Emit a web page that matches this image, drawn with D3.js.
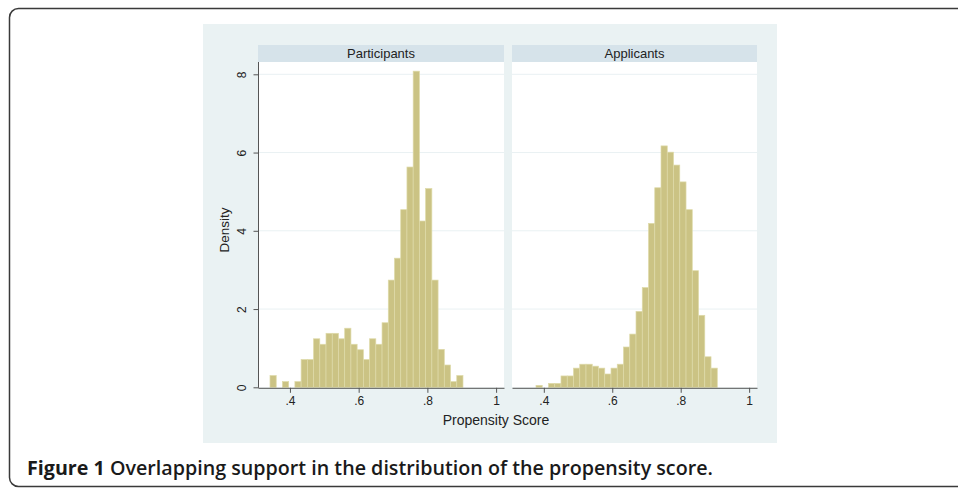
<!DOCTYPE html>
<html>
	<head>
		<meta http-equiv="Content-Type" content="text/html;charset=utf-8"/>
		<title>Propensity score</title>
		<script src="https://d3js.org/d3.v7.min.js"></script>
		<style type="text/css">
			body { margin: 0; background: #fff; }
			svg { display: block; }
			.bar { fill: #cbc384; stroke: #dedaa9; stroke-width: 0.7; }
			.grid { stroke: #e9f1f3; stroke-width: 1; }
			.axis path, .axis line { stroke: #555; }
			.axis text { font-family: "Liberation Sans", Arial, sans-serif; font-size: 12px; fill: #222; }
			.lbl { font-family: "Liberation Sans", Arial, sans-serif; fill: #222; }
		</style>
	</head>
	<body>
		<script type="text/javascript">

			//Panel names and histogram data
			var panels = ["Participants", "Applicants"];
			var binStart = [0.3419, 0.3771];
			var binWidth = [0.01812, 0.01827];
			var participants = [0.30, 0, 0.145, 0, 0.145, 0.71, 0.71, 1.24, 1.10, 1.38, 1.38, 1.24, 1.51, 1.10, 0.96,
				0.71, 1.24, 1.10, 1.65, 2.74, 3.30, 4.54, 5.63, 8.08, 4.25, 5.08, 2.74, 0.97, 0.57, 0.145, 0.30];
			var applicants = [0.05, 0, 0.10, 0.10, 0.29, 0.29, 0.49, 0.59, 0.59, 0.54, 0.49, 0.34, 0.49, 0.59, 1.03,
				1.36, 1.94, 2.55, 4.19, 5.10, 6.17, 6.01, 5.68, 5.25, 4.54, 2.98, 1.84, 0.78, 0.49];
			var xTicks = [0.4, 0.6, 0.8, 1];
			var xTickLabels = [".4", ".6", ".8", "1"];
			var yTicks = [0, 2, 4, 6, 8];
			var caption = ["Figure 1", " Overlapping support in the distribution of the propensity score."];

			var series = [participants, applicants];

			var w = 958,
				h = 488;

			var svg = d3.select("body").append("svg")
						.attr("width", w)
						.attr("height", h);

			//Outer rounded frame (runs off the right edge)
			svg.append("rect")
				.attr("x", 9.5).attr("y", 8.5)
				.attr("width", 980).attr("height", 478)
				.attr("rx", 9)
				.attr("fill", "none")
				.attr("stroke", "#3a3a3a")
				.attr("stroke-width", 1.5);

			//Graph region background
			svg.append("rect")
				.attr("x", 203).attr("y", 24)
				.attr("width", 574).attr("height", 419)
				.attr("fill", "#eaf2f3");

			var panelX = [258, 512],
				panelW = [246, 245],
				plotTop = 62,
				headerTop = 45;

			var yScale = d3.scaleLinear()
							.domain([0, 8])
							.range([387.3, 74.3]);

			panels.forEach(function(name, p) {

				var xScale = d3.scaleLinear()
								.domain([0.307, 1.023])
								.range([panelX[p], panelX[p] + panelW[p]]);

				var g = svg.append("g");

				//Header strip
				g.append("rect")
					.attr("x", panelX[p]).attr("y", headerTop)
					.attr("width", panelW[p]).attr("height", plotTop - headerTop)
					.attr("fill", "#d6e3ea");
				g.append("text")
					.attr("class", "lbl")
					.attr("x", panelX[p] + panelW[p] / 2)
					.attr("y", 58)
					.attr("text-anchor", "middle")
					.style("font-size", "13px")
					.text(name);

				//Plot area
				g.append("rect")
					.attr("x", panelX[p]).attr("y", plotTop)
					.attr("width", panelW[p]).attr("height", yScale(0) - plotTop)
					.attr("fill", "#fff");

				g.selectAll("line.grid")
					.data(yTicks.slice(1))
					.enter()
					.append("line")
					.attr("class", "grid")
					.attr("x1", panelX[p]).attr("x2", panelX[p] + panelW[p])
					.attr("y1", function(d) { return yScale(d); })
					.attr("y2", function(d) { return yScale(d); });

				//Bars
				g.selectAll("rect.bar")
					.data(series[p])
					.enter()
					.append("rect")
					.attr("class", "bar")
					.attr("x", function(d, i) { return xScale(binStart[p] + i * binWidth[p]); })
					.attr("width", function(d, i) {
						return xScale(binStart[p] + (i + 1) * binWidth[p]) - xScale(binStart[p] + i * binWidth[p]);
					})
					.attr("y", function(d) { return yScale(d); })
					.attr("height", function(d) { return yScale(0) - yScale(d); })
					.style("display", function(d) { return d > 0 ? null : "none"; });

				//x axis
				var xAxis = d3.axisBottom(xScale)
								.tickValues(xTicks)
								.tickFormat(function(d, i) { return xTickLabels[i]; })
								.tickSizeInner(5)
								.tickSizeOuter(0)
								.tickPadding(4);
				g.append("g")
					.attr("class", "axis")
					.attr("transform", "translate(0," + (yScale(0) + 0.5) + ")")
					.call(xAxis);

				//y axis, left panel only
				if (p === 0) {
					var yAxis = d3.axisLeft(yScale)
									.tickValues(yTicks)
									.tickSizeInner(5)
									.tickSizeOuter(0)
									.tickPadding(6);
					var ya = g.append("g")
						.attr("class", "axis")
						.attr("transform", "translate(" + (panelX[p] + 0.5) + ",0)")
						.call(yAxis);
					ya.select("path.domain")
						.attr("d", "M0," + (yScale(0) + 0.5) + "V" + plotTop);
					ya.selectAll(".tick text")
						.attr("x", null).attr("dy", null)
						.attr("text-anchor", "middle")
						.attr("transform", "translate(-13,0) rotate(-90)");
				}
			});

			//Axis titles
			svg.append("text")
				.attr("class", "lbl")
				.attr("transform", "translate(229,230) rotate(-90)")
				.attr("text-anchor", "middle")
				.style("font-size", "13.5px")
				.text("Density");

			svg.append("text")
				.attr("class", "lbl")
				.attr("x", 496).attr("y", 425)
				.attr("text-anchor", "middle")
				.style("font-size", "14px")
				.text("Propensity Score");

			//Caption
			var cap = svg.append("text")
				.attr("x", 27).attr("y", 475)
				.style("font-family", "'Open Sans', 'Noto Sans', sans-serif")
				.style("font-size", "18px")
				.style("fill", "#1a1a1a");
			cap.append("tspan").style("font-weight", 700).text(caption[0]);
			cap.append("tspan").style("font-weight", 600).text(caption[1]);

			//Scale caption so it ends where the original does
			var len = cap.node().getComputedTextLength();
			cap.style("font-size", (18 * 686 / len).toFixed(2) + "px");

		</script>
	</body>
</html>
